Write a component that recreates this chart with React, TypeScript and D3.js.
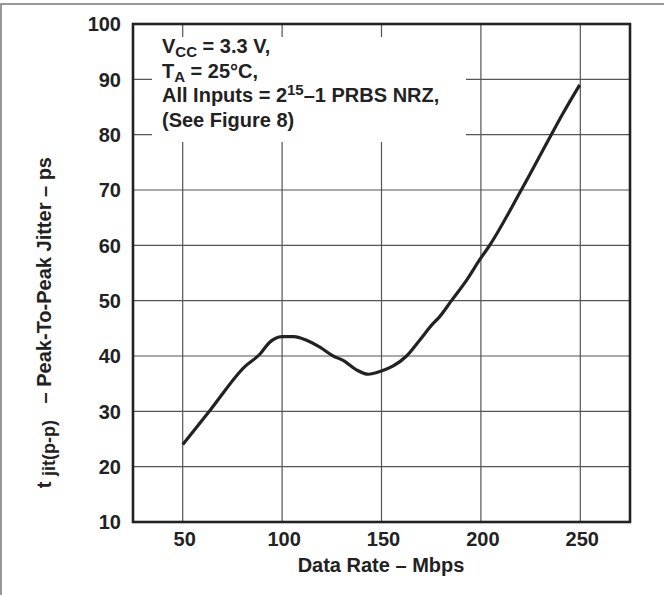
import React, { useRef, useEffect } from "react";
import * as d3 from "d3";

// data rate (Mbps) and peak-to-peak jitter (ps)
const dataRate = [50, 64, 81, 89, 93.5, 100, 106, 112, 119, 125.7, 130.7, 137.4, 143.3, 150, 155.9, 162.6, 169.3, 176, 178.5, 185.2, 193, 199.4, 204.4, 220.3, 235.4, 240.9, 249.7];
const jitter = [24, 30.3, 38, 40.4, 42.4, 43.5, 43.5, 42.9, 41.6, 40, 39.2, 37.5, 36.7, 37.3, 38.2, 40, 42.9, 45.9, 46.8, 50, 53.8, 57.4, 60, 70, 80, 83.6, 89];

const xTicks = [50, 100, 150, 200, 250];
const yTicks = [10, 20, 30, 40, 50, 60, 70, 80, 90, 100];

const FONT = "'Liberation Sans', Arial, Helvetica, sans-serif";
const INK = "#222";

const App = () => {
    const svgRef = useRef<SVGSVGElement>(null);

    useEffect(() => {
        const svg = d3.select(svgRef.current);
        svg.selectAll("*").remove();

        const width = 664;
        const height = 595;
        const plot = { left: 133, right: 630, top: 24, bottom: 522 };

        const x = d3.scaleLinear().domain([25, 275]).range([plot.left, plot.right]);
        const y = d3.scaleLinear().domain([10, 100]).range([plot.bottom, plot.top]);

        svg.attr("width", width).attr("height", height);

        // outer frame (only top and left edges fall inside the picture)
        svg.append("rect")
            .attr("x", 1)
            .attr("y", 4)
            .attr("width", width + 20)
            .attr("height", height + 20)
            .attr("fill", "white")
            .attr("stroke", "#777")
            .attr("stroke-width", 1.5);

        // grid
        const grid = svg.append("g").attr("stroke", "#555").attr("stroke-width", 1.2);
        grid.selectAll("line.v")
            .data(xTicks)
            .join("line")
            .attr("class", "v")
            .attr("x1", (d) => x(d))
            .attr("x2", (d) => x(d))
            .attr("y1", plot.top)
            .attr("y2", plot.bottom);
        grid.selectAll("line.h")
            .data(yTicks)
            .join("line")
            .attr("class", "h")
            .attr("x1", plot.left)
            .attr("x2", plot.right)
            .attr("y1", (d) => y(d))
            .attr("y2", (d) => y(d));

        // white box behind the conditions text
        svg.append("rect")
            .attr("x", 152)
            .attr("y", 37)
            .attr("width", 314)
            .attr("height", 105)
            .attr("fill", "white");

        // plot frame
        svg.append("rect")
            .attr("x", plot.left)
            .attr("y", plot.top)
            .attr("width", plot.right - plot.left)
            .attr("height", plot.bottom - plot.top)
            .attr("fill", "none")
            .attr("stroke", INK)
            .attr("stroke-width", 2.6);

        // curve
        const pts: [number, number][] = dataRate.map((d, i) => [d, jitter[i]]);
        const line = d3
            .line<[number, number]>()
            .x((d) => x(d[0]))
            .y((d) => y(d[1]))
            .curve(d3.curveMonotoneX);
        svg.append("path")
            .datum(pts)
            .attr("fill", "none")
            .attr("stroke", INK)
            .attr("stroke-width", 3.2)
            .attr("stroke-linejoin", "round")
            .attr("d", line);

        // tick labels
        const labels = svg.append("g")
            .attr("font-family", FONT)
            .attr("font-weight", "bold")
            .attr("font-size", 20)
            .attr("fill", INK);
        labels.selectAll("text.y")
            .data(yTicks)
            .join("text")
            .attr("class", "y")
            .attr("x", plot.left - 12)
            .attr("y", (d) => y(d))
            .attr("dy", "0.36em")
            .attr("text-anchor", "end")
            .text((d) => d);
        labels.selectAll("text.x")
            .data(xTicks)
            .join("text")
            .attr("class", "x")
            .attr("x", (d) => x(d) + 2)
            .attr("y", 546)
            .attr("text-anchor", "middle")
            .text((d) => d);

        // axis titles
        svg.append("text")
            .attr("x", 381)
            .attr("y", 572)
            .attr("text-anchor", "middle")
            .attr("font-family", FONT)
            .attr("font-weight", "bold")
            .attr("font-size", 20)
            .attr("fill", INK)
            .text("Data Rate – Mbps");

        const yt = svg.append("text")
            .attr("transform", "translate(51,157) rotate(-90)")
            .attr("text-anchor", "end")
            .attr("font-family", FONT)
            .attr("font-weight", "bold")
            .attr("font-size", 20)
            .attr("fill", INK);
        yt.append("tspan").text("t\u00a0");
        yt.append("tspan").attr("font-size", 18).attr("dy", 4).text("jit(p-p)");
        yt.append("tspan").attr("dy", -4).text("\u00a0\u00a0\u00a0– Peak-To-Peak Jitter – ps");

        // conditions text
        const note = svg.append("g")
            .attr("font-family", FONT)
            .attr("font-weight", "bold")
            .attr("font-size", 20)
            .attr("fill", INK);
        const l1 = note.append("text").attr("x", 162).attr("y", 53);
        l1.append("tspan").text("V");
        l1.append("tspan").attr("font-size", 15).attr("dy", 4).text("CC");
        l1.append("tspan").attr("dy", -4).text(" = 3.3 V,");
        const l2 = note.append("text").attr("x", 162).attr("y", 77.5);
        l2.append("tspan").text("T");
        l2.append("tspan").attr("font-size", 15).attr("dy", 4).text("A");
        l2.append("tspan").attr("dy", -4).text(" = 25°C,");
        const l3 = note.append("text").attr("x", 162).attr("y", 102);
        l3.append("tspan").text("All Inputs = 2");
        l3.append("tspan").attr("font-size", 15).attr("dy", -7).text("15");
        l3.append("tspan").attr("dy", 7).text("–1 PRBS NRZ,");
        note.append("text").attr("x", 162).attr("y", 126.5).text("(See Figure 8)");
    }, []);

    return (
        <svg ref={svgRef} style={{ position: "absolute", left: 0, top: 0 }}></svg>
    );
};

export default App;
